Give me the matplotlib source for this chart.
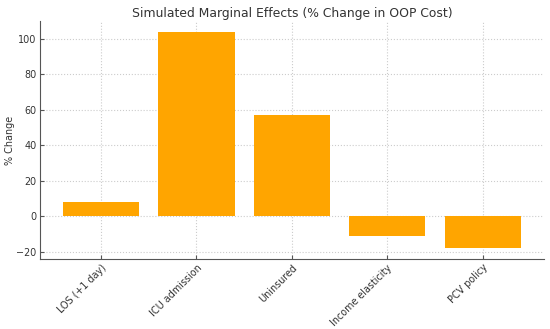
import matplotlib
matplotlib.use("Agg")
import matplotlib.pyplot as plt

categories = ["LOS (+1 day)", "ICU admission", "Uninsured", "Income elasticity", "PCV policy"]
pct_change = [7.8, 104.0, 57.0, -11.0, -18.0]

fig = plt.figure(figsize=(5.5, 3.29), dpi=100)
ax = fig.add_axes([0.0727, 0.2128, 0.916, 0.7235])

ax.bar(categories, pct_change, color="#FFA500", width=0.8, zorder=2)

ax.set_title("Simulated Marginal Effects (% Change in OOP Cost)", fontsize=8.9,
             color="#333333", pad=2.5)
ax.set_ylabel("% Change", fontsize=6.9, color="#333333", labelpad=0.8)
ax.tick_params(axis="both", direction="in", labelsize=6.9, colors="#555555",
               labelcolor="#333333", length=3, pad=2.5)
plt.setp(ax.get_xticklabels(), rotation=45, ha="right", rotation_mode="anchor")
ax.grid(True, linestyle=":", color="#cccccc", linewidth=0.8, zorder=0)

for s in ["top", "right"]:
    ax.spines[s].set_visible(False)
for s in ["left", "bottom"]:
    ax.spines[s].set_color("#555555")

fig.savefig("out.png", dpi=100)
